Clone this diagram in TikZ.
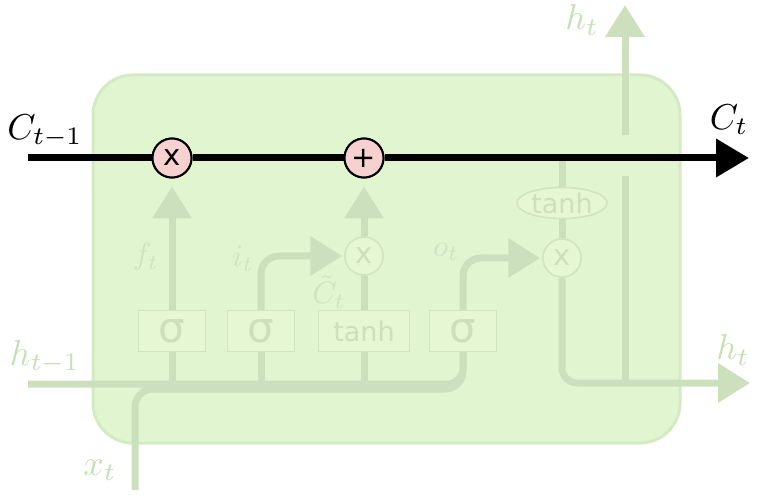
\documentclass[tikz,border=0pt]{standalone}
\usepackage{fontspec}
\newfontfamily\dejavu{DejaVu Sans}
\usetikzlibrary{arrows.meta,shapes.geometric}
\definecolor{boxfill}{HTML}{E1F5D1}
\definecolor{boxborder}{HTML}{D3EBC3}
\definecolor{linec}{HTML}{CCE0BE}
\definecolor{gatefill}{HTML}{E6F7D3}
\definecolor{gateborder}{HTML}{D0E5C0}
\definecolor{gatetext}{HTML}{CCE0BE}
\definecolor{innerlab}{HTML}{CFE3C2}
\definecolor{outerlab}{HTML}{C6E0B4}
\definecolor{pinkc}{HTML}{F7D0D0}
\begin{document}
\begin{tikzpicture}[x=1pt,y=-1pt,
  cellbox/.style={draw=boxborder, line width=3pt, fill=boxfill, rounded corners=40pt,
    minimum width=587pt, minimum height=368pt, inner sep=0pt},
  flow/.style={draw=linec, line width=7pt},
  farrow/.style={flow, -{Triangle[length=32pt,width=38pt]}},
  gatebox/.style={draw=gateborder, line width=1.5pt, fill=gatefill, minimum width=67pt,
    minimum height=41pt, inner sep=0pt, text=gatetext, font=\dejavu\fontsize{42}{44}\selectfont},
  tanhbox/.style={gatebox, minimum width=91pt, font=\dejavu\fontsize{27}{30}\selectfont},
  fcirc/.style={circle, draw=gateborder, line width=1.5pt, fill=gatefill, minimum size=38pt,
    inner sep=0pt, text=gatetext, font=\dejavu\fontsize{29}{30}\selectfont},
  fell/.style={ellipse, draw=gateborder, line width=1.5pt, fill=gatefill, minimum width=90pt,
    minimum height=31pt, inner sep=0pt, text=gatetext, font=\dejavu\fontsize{27}{30}\selectfont},
  pcirc/.style={circle, draw=black, line width=2pt, fill=pinkc, minimum size=39pt,
    inner sep=0pt, font=\dejavu\fontsize{29}{30}\selectfont},
  biglab/.style={scale=3.6, inner sep=0pt},
  outlab/.style={biglab, text=outerlab},
  inlab/.style={scale=3.1, inner sep=0pt, text=innerlab}
]
\useasboundingbox[fill=white] (0,0) rectangle (775,502);

% cell body
\node[cellbox] (cell) at (386.5,259) {};

% free ends
\coordinate (cprev) at (28,158);
\coordinate (cnext) at (749,158);
\coordinate (hin) at (28,384);
\coordinate (xin) at (135,490);
\coordinate (hout) at (750,383);
\coordinate (hup) at (625,383);
\coordinate (hgap1) at (625,176);
\coordinate (hgap2) at (625,135);
\coordinate (htop) at (625,5);

% nodes (defined before connectors, drawn on top later)
\path
  (172,331) node[gatebox] (sig1) {σ}
  (261,331) node[gatebox] (sig2) {σ}
  (364,331) node[tanhbox] (tanhb) {tanh}
  (463,331) node[gatebox] (sig3) {σ}
  (364,256) node[fcirc] (muli) {x}
  (562,258) node[fcirc] (mulo) {x}
  (562,203) node[fell] (tanhe) {tanh}
  (172,158) node[pcirc] (mulf) {x}
  (364,158) node[pcirc] (addi) {+};

% faded flows
\draw[flow, rounded corners=16pt] (hin) -- (sig3.south |- hin) -- (sig3.south);
\draw[flow, rounded corners=18pt] (xin) -- (xin |- 0,389) -- (sig3.south |- 0,389) -- (sig3.south);
\draw[flow] (sig1.south) -- (sig1.south |- hin);
\draw[flow] (sig2.south) -- (sig2.south |- hin);
\draw[flow] (tanhb.south) -- (tanhb.south |- hin);
\draw[farrow, shorten >=8pt] (sig1.north) -- (mulf.south);
\draw[farrow, rounded corners=18pt, shorten >=2pt] (sig2.north) |- (muli.west);
\draw[flow] (tanhb.north) -- (muli.south);
\draw[farrow, shorten >=8pt] (muli.north) -- (addi.south);
\draw[farrow, rounded corners=18pt, shorten >=2pt] (sig3.north) |- (mulo.west);
\draw[flow] (tanhe.north |- cprev) -- (tanhe.north);
\draw[flow] (tanhe.south) -- (mulo.north);
\draw[farrow, rounded corners=15pt] (mulo.south) |- (hout);
\draw[flow] (hup) -- (hgap1);
\draw[farrow] (hgap2) -- (htop);

% redraw gate nodes on top
\path
  (172,331) node[gatebox] {σ}
  (261,331) node[gatebox] {σ}
  (364,331) node[tanhbox] {tanh}
  (463,331) node[gatebox] {σ}
  (364,256) node[fcirc] {x}
  (562,258) node[fcirc] {x}
  (562,203) node[fell] {tanh};

% cell state line
\draw[line width=7pt] (cprev) -- (mulf.west);
\draw[line width=7pt] (mulf.east) -- (addi.west);
\draw[line width=7pt, -{Triangle[length=33pt,width=37pt]}] (addi.east) -- (cnext);
\path
  (172,158) node[pcirc] {x}
  (364,158) node[pcirc] {+};

% labels
\node[biglab] (lcprev) at (45,131) {$C_{t-1}$};
\node[biglab] (lcnext) at (729,120) {$C_t$};
\node[outlab] (lhprev) at (45,357) {$h_{t-1}$};
\node[outlab] (lhtop) at (582,20) {$h_t$};
\node[outlab] (lhout) at (733,350) {$h_t$};
\node[outlab] (lx) at (100,470) {$x_t$};
\node[inlab] (lf) at (146,257) {$f_t$};
\node[inlab] (li) at (243,259) {$i_t$};
\node[inlab] (lct) at (329,292) {$\tilde{C}_t$};
\node[inlab] (lo) at (446,252) {$o_t$};
\end{tikzpicture}
\end{document}
